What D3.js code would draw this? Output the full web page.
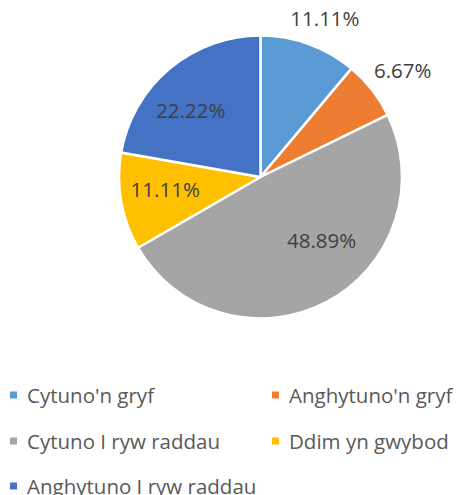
<!DOCTYPE html>
<html>
<head>
<meta charset="utf-8">
<script src="https://cdn.jsdelivr.net/npm/d3@7"></script>
<style>
  body { margin: 0; background: #fff; }
  svg { display: block; font-family: "Open Sans", sans-serif; }
</style>
</head>
<body>
<svg id="chart" width="459" height="495"></svg>
<script>
// data
const categories = ["Cytuno'n gryf", "Anghytuno'n gryf", "Cytuno I ryw raddau", "Ddim yn gwybod", "Anghytuno I ryw raddau"];
const shares = [11.11, 6.67, 48.89, 11.11, 22.22];
const colors = ["#5B9BD5", "#ED7D31", "#A5A5A5", "#FFC000", "#4472C4"];

// label layout (excel "best fit"): outside flag, radius and small angle nudge in degrees
const labelOutside = [true, true, false, false, false];
const labelRadius = [172, 178, 88, 96, 97];
const labelNudge = [2, 1, -16, 3, -6];

const svg = d3.select('#chart');
const cx = 260.5, cy = 177, r = 141.5;

const pie = d3.pie().sort(null).value(d => d)(shares);
const arc = d3.arc().innerRadius(0).outerRadius(r);

const g = svg.append('g').attr('transform', `translate(${cx},${cy})`);
g.selectAll('path')
  .data(pie)
  .join('path')
  .attr('d', arc)
  .attr('fill', (d, i) => colors[i])
  .attr('stroke', '#fff')
  .attr('stroke-width', 2.5)
  .attr('stroke-linejoin', 'round');

g.selectAll('text.lbl')
  .data(pie)
  .join('text')
  .attr('class', 'lbl')
  .attr('x', (d, i) => {
    const a = (d.startAngle + d.endAngle) / 2 + labelNudge[i] * Math.PI / 180;
    return Math.sin(a) * labelRadius[i];
  })
  .attr('y', (d, i) => {
    const a = (d.startAngle + d.endAngle) / 2 + labelNudge[i] * Math.PI / 180;
    return -Math.cos(a) * labelRadius[i];
  })
  .attr('text-anchor', 'middle')
  .attr('dominant-baseline', 'central')
  .attr('font-size', 20.5)
  .attr('fill', '#404040')
  .text(d => d.value.toFixed(2) + '%');

// legend, two columns
const legX = [10, 272];
const legY = [395, 441, 486];
const leg = svg.append('g').selectAll('g')
  .data(categories)
  .join('g')
  .attr('transform', (d, i) => `translate(${legX[i % 2]},${legY[Math.floor(i / 2)]})`);
leg.append('rect')
  .attr('x', 0).attr('y', -3.5)
  .attr('width', 7).attr('height', 7)
  .attr('fill', (d, i) => colors[i]);
leg.append('text')
  .attr('x', 17)
  .attr('dominant-baseline', 'central')
  .attr('font-size', 20.5)
  .attr('fill', '#595959')
  .text(d => d);
</script>
</body>
</html>
